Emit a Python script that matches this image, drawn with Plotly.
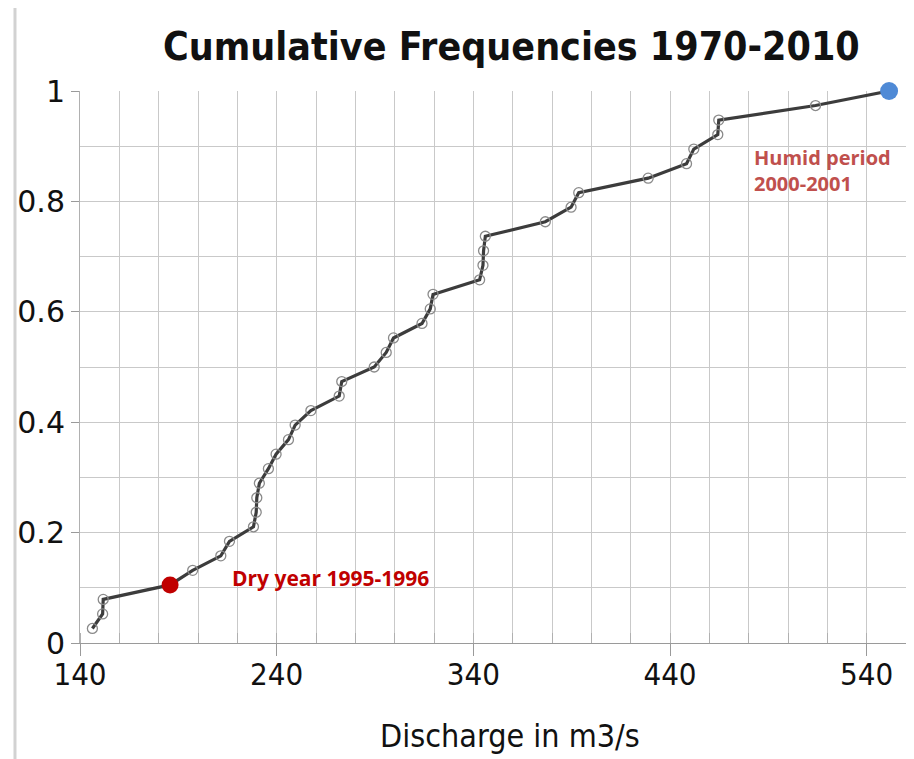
import plotly.graph_objects as go

# Sorted discharge values (m3/s) and their cumulative frequencies i/38
discharge = [146.3, 151.5, 151.8, 185.8, 197.3, 211.6, 216.0, 228.2, 229.6, 229.9,
             231.2, 235.8, 239.7, 246.0, 249.4, 257.4, 271.8, 273.1, 289.6, 295.7,
             299.4, 313.9, 318.1, 319.5, 343.2, 344.9, 345.2, 346.1, 376.6, 389.7,
             393.6, 428.9, 448.4, 452.1, 464.3, 464.8, 514.0, 551.4]
rank = list(range(1, len(discharge) + 1))
cum_freq = [r / len(discharge) for r in rank]

dry_index = 3     # 1995-1996
humid_index = 37  # 2000-2001

title_text = "Cumulative Frequencies 1970-2010"
x_title = "Discharge in m3/s"
dry_label = "Dry year 1995-1996"
humid_label = "Humid period<br>2000-2001"

fig = go.Figure()
fig.add_trace(go.Scatter(
    x=discharge, y=cum_freq, mode="lines+markers",
    line=dict(color="#3c3c3c", width=3.2),
    marker=dict(symbol="circle-open", size=10, color="#8a8a8a", line=dict(width=1.3)),
    showlegend=False, cliponaxis=False,
))
fig.add_trace(go.Scatter(
    x=[discharge[dry_index]], y=[cum_freq[dry_index]], mode="markers",
    marker=dict(size=17, color="#c00000"), showlegend=False, cliponaxis=False,
))
fig.add_trace(go.Scatter(
    x=[discharge[humid_index]], y=[cum_freq[humid_index]], mode="markers",
    marker=dict(size=18, color="#4f8ad6"), showlegend=False, cliponaxis=False,
))

grid_c = "#c9c9c9"
fig.update_layout(
    width=906, height=751,
    margin=dict(l=72, r=8, t=83, b=116, autoexpand=False),
    paper_bgcolor="white", plot_bgcolor="white",
    font=dict(family="DejaVu Sans", color="#111111"),
    xaxis=dict(
        range=[140, 560], tick0=140, dtick=100, showgrid=True, gridcolor=grid_c,
        ticks="outside", ticklen=12, tickcolor="#9a9a9a", automargin=False,
        ticklabelstandoff=-8,
        tickfont=dict(family="DejaVu Sans Condensed, DejaVu Sans", size=31, color="#111"),
        showline=True, linecolor="#9a9a9a", zeroline=False,
        minor=dict(dtick=20, showgrid=True, gridcolor=grid_c, ticks="inside",
                   ticklen=10, tickcolor="#b0b0b0"),
    ),
    yaxis=dict(
        range=[0, 1], dtick=0.2, showgrid=True, gridcolor=grid_c,
        ticks="outside", ticklen=8, tickcolor="#9a9a9a", automargin=False,
        tickfont=dict(family="DejaVu Sans", size=30, color="#111"),
        showline=True, linecolor="#b0b0b0", zeroline=False,
        minor=dict(dtick=0.1, showgrid=True, gridcolor=grid_c),
    ),
    shapes=[
        dict(type="rect", xref="paper", yref="paper", x0=0.184, x1=0.4746,
             y0=0.018, y1=0.154, fillcolor="white", line=dict(width=0), layer="between"),
        dict(type="rect", xref="paper", yref="paper", x0=0.81, x1=1.0097,
             y0=0.717, y1=0.9167, fillcolor="white", line=dict(width=0), layer="between"),
        dict(type="line", xref="paper", yref="paper", x0=-0.0787, x1=-0.0787,
             y0=-0.21, y1=1.165, line=dict(color="#d2d2d2", width=3)),
    ],
    annotations=[
        dict(text="<b>" + title_text + "</b>", xref="paper", yref="paper",
             x=0.5218, y=1.0815, xanchor="center", yanchor="middle", showarrow=False,
             font=dict(family="DejaVu Sans Condensed, DejaVu Sans", size=39, color="#111")),
        dict(text=x_title, xref="paper", yref="paper", x=0.5206, y=-0.168,
             xanchor="center", yanchor="middle", showarrow=False,
             font=dict(family="DejaVu Sans Condensed, DejaVu Sans", size=32, color="#111")),
        dict(text="<b>" + dry_label + "</b>", xref="paper", yref="paper",
             x=0.181, y=0.1178, xanchor="left", yanchor="middle", showarrow=False,
             font=dict(family="Open Sans", size=21, color="#c00000")),
        dict(text="<b>" + humid_label + "</b>", xref="paper", yref="paper",
             x=0.8136, y=0.856, xanchor="left", yanchor="middle", showarrow=False,
             align="left",
             font=dict(family="Open Sans", size=20, color="#c0504d")),
    ],
)

fig.write_html("out.html")
